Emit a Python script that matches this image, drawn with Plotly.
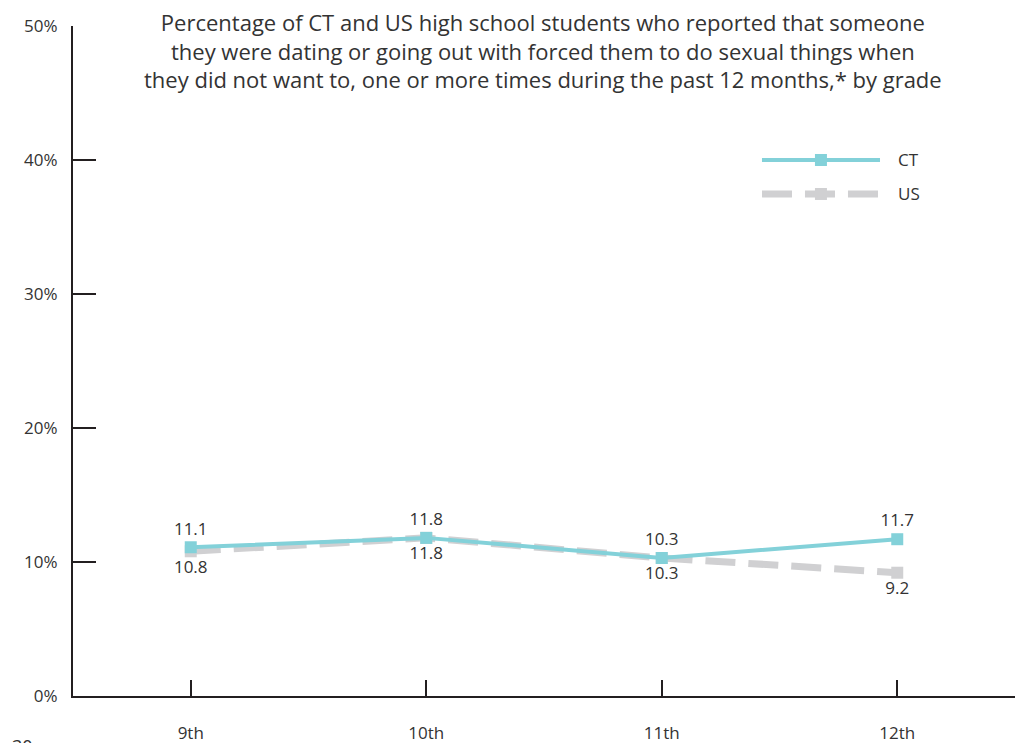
import plotly.graph_objects as go

# Grade categories and percentages
grades = ["9th", "10th", "11th", "12th"]
ct_values = [11.1, 11.8, 10.3, 11.7]
us_values = [10.8, 11.8, 10.3, 9.2]
y_ticks = [0, 10, 20, 30, 40, 50]
y_tick_labels = ["0%", "10%", "20%", "30%", "40%", "50%"]
title_lines = [
    "Percentage of CT and US high school students who reported that someone",
    "they were dating or going out with forced them to do sexual things when",
    "they did not want to, one or more times during the past 12 months,* by grade",
]

CT_COLOR = "#83D1D9"
US_COLOR = "#D0D0D2"
AXIS_COLOR = "#231F20"
TEXT_COLOR = "#333333"
FONT = "Open Sans, Noto Sans, sans-serif"
SMALL = 17

fig = go.Figure()

fig.add_trace(go.Scatter(
    x=grades, y=us_values, name="US", mode="lines+markers+text",
    line=dict(color=US_COLOR, width=7, dash="30px,13px"),
    marker=dict(symbol="square", size=12, color=US_COLOR),
    text=[f"{v:.1f}" for v in us_values], textposition="bottom center",
    textfont=dict(size=SMALL, color=TEXT_COLOR, family=FONT),
    showlegend=False, cliponaxis=False,
))
fig.add_trace(go.Scatter(
    x=grades, y=ct_values, name="CT", mode="lines+markers+text",
    line=dict(color=CT_COLOR, width=4),
    marker=dict(symbol="square", size=12, color=CT_COLOR),
    text=[f"{v:.1f}" for v in ct_values], textposition="top center",
    textfont=dict(size=SMALL, color=TEXT_COLOR, family=FONT),
    showlegend=False, cliponaxis=False,
))

# Plot area size in pixels (used to place layout items in paper units)
W, H = 942.0, 670.0

# Hand-drawn legend (long line samples) in paper coordinates
shapes = []
annotations = []
legend_items = [
    ("CT", CT_COLOR, 4, "solid", 0.800),
    ("US", US_COLOR, 7, "30px,13px", 0.7493),
]
for label, color, width, dash, yp in legend_items:
    shapes.append(dict(type="line", xref="paper", yref="paper",
                       x0=0.7314, x1=0.8567, y0=yp, y1=yp,
                       line=dict(color=color, width=width, dash=dash)))
    shapes.append(dict(type="rect", xref="paper", yref="paper",
                       x0=0.794 - 6 / W, x1=0.794 + 6 / W,
                       y0=yp - 6 / H, y1=yp + 6 / H,
                       fillcolor=color, line=dict(width=0)))
    annotations.append(dict(text=label, xref="paper", yref="paper",
                            x=0.874, y=yp, xanchor="left", yanchor="middle",
                            showarrow=False,
                            font=dict(size=SMALL, color=TEXT_COLOR, family=FONT)))

# Chart title: three centred lines at the top
annotations.append(dict(text="<br>".join(title_lines), xref="paper", yref="paper",
                        x=0.4985, y=(696 - 5) / H,
                        xanchor="center", yanchor="top", align="center",
                        showarrow=False,
                        font=dict(size=22, color=TEXT_COLOR, family=FONT)))

# Page number at the lower-left corner
annotations.append(dict(text="30", xref="paper", yref="paper",
                        x=-0.0541, y=-0.0739, xanchor="center", yanchor="middle",
                        showarrow=False,
                        font=dict(size=18, color=TEXT_COLOR, family=FONT)))

fig.update_layout(
    width=1019, height=743,
    margin=dict(l=73, r=4, t=26, b=47, autoexpand=False),
    paper_bgcolor="white", plot_bgcolor="white",
    font=dict(family=FONT, color=TEXT_COLOR),
    shapes=shapes,
    annotations=annotations,
)

fig.update_xaxes(
    type="category", range=[-0.5, 3.5], automargin=False,
    showgrid=False, zeroline=False,
    showline=True, linecolor=AXIS_COLOR, linewidth=2,
    ticks="inside", ticklen=16, tickwidth=2, tickcolor=AXIS_COLOR,
    ticklabelstandoff=21,
    tickfont=dict(size=SMALL, color=TEXT_COLOR, family=FONT),
)
fig.update_yaxes(
    range=[0, 50], tickvals=y_ticks, ticktext=y_tick_labels, automargin=False,
    showgrid=False, zeroline=False,
    showline=True, linecolor=AXIS_COLOR, linewidth=2,
    ticks="inside", ticklen=23, tickwidth=2, tickcolor=AXIS_COLOR,
    ticklabelstandoff=10,
    tickfont=dict(size=SMALL, color=TEXT_COLOR, family=FONT),
)

fig.write_html("out.html")
